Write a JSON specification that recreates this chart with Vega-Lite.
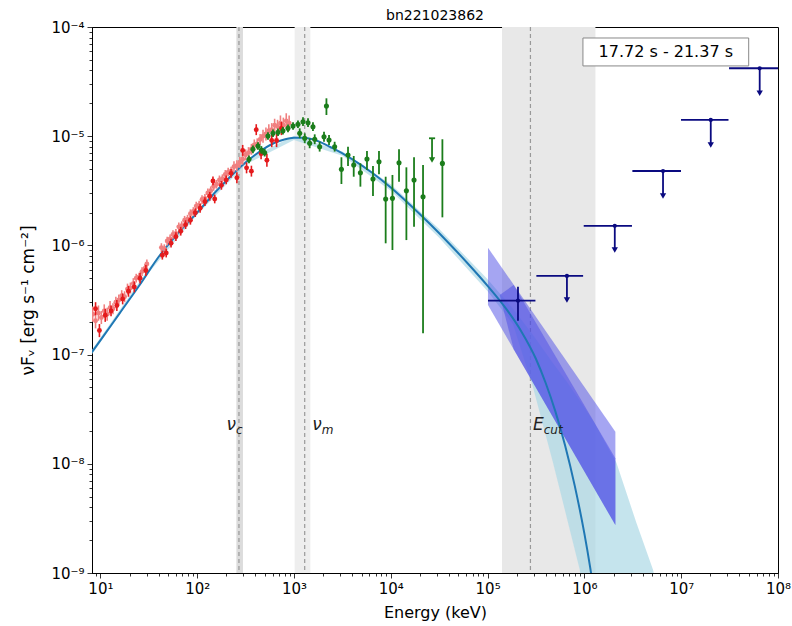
{
"$schema":"https://vega.github.io/schema/vega-lite/v6.json",
"width":686,"height":546,
"autosize":{"type":"none"},
"padding":{"left":92,"top":27,"right":14,"bottom":53},
"background":"white",
"config":{"view":{"stroke":"black","strokeWidth":1},"font":"DejaVu Sans"},
"title":{"text":"bn221023862","fontSize":14,"font":"DejaVu Sans","fontWeight":"normal","offset":-3,"color":"black"},
"resolve":{"axis":{"x":"independent","y":"independent"}},
"datasets":{
"vb":[{"a":254,"b":297,"c":"nc"},{"a":1016,"b":1476,"c":"nm"},{"a":141000,"b":1300000,"c":"ec"}],
"vl":[{"a":270},{"a":1290},{"a":277000}],
"band":[
{"e":8.128,"lo":1.0e-7,"hi":1.096e-7},{"e":31.62,"lo":5.623e-7,"hi":6.166e-7},{"e":100,"lo":1.905e-6,"hi":2.089e-6},{"e":316.2,"lo":5.495e-6,"hi":6.026e-6},{"e":1000,"lo":9.226e-6,"hi":1.012e-5},{"e":3162,"lo":6.607e-6,"hi":7.244e-6},{"e":10000,"lo":3.162e-6,"hi":3.631e-6},{"e":31620,"lo":1.175e-6,"hi":1.413e-6},{"e":100000,"lo":3.802e-7,"hi":4.898e-7},{"e":182800,"lo":1.905e-7,"hi":2.63e-7},{"e":294400,"lo":5.012e-8,"hi":1.514e-7},{"e":474200,"lo":1.023e-8,"hi":8.318e-8},{"e":660700,"lo":3.162e-9,"hi":5.623e-8},{"e":895400,"lo":1.072e-9,"hi":3.802e-8},{"e":1259000,"lo":1e-10,"hi":2.399e-8},{"e":2143000,"lo":1e-10,"hi":1.023e-8},{"e":3443000,"lo":1e-10,"hi":2.884e-9},{"e":5117000,"lo":1e-10,"hi":1.072e-9},{"e":5495000,"lo":1e-10,"hi":7.943e-10}],
"bt":[{"g":"A","e":100900,"lo":2.844e-7,"hi":9.528e-7},{"g":"A","e":2089000,"lo":2.754e-9,"hi":1.968e-8},{"g":"B","e":133400,"lo":3.516e-7,"hi":3.516e-7},{"g":"B","e":186200,"lo":1.117e-7,"hi":4.335e-7},{"g":"B","e":2089000,"lo":2.754e-9,"hi":1.122e-8}],
"model":[{"e":8.128,"f":1.047e-7},{"e":10,"f":1.349e-7},{"e":15.85,"f":2.399e-7},{"e":25.12,"f":4.266e-7},{"e":41.11,"f":8.128e-7},{"e":63.1,"f":1.288e-6},{"e":100,"f":1.995e-6},{"e":158.5,"f":3.162e-6},{"e":251.2,"f":4.786e-6},{"e":398.1,"f":6.761e-6},{"e":631,"f":8.71e-6},{"e":794.3,"f":9.333e-6},{"e":1000,"f":9.66e-6},{"e":1259,"f":9.66e-6},{"e":1585,"f":9.333e-6},{"e":2512,"f":7.762e-6},{"e":3981,"f":6.166e-6},{"e":6310,"f":4.677e-6},{"e":10000,"f":3.388e-6},{"e":15850,"f":2.344e-6},{"e":25120,"f":1.585e-6},{"e":39810,"f":1.047e-6},{"e":63100,"f":6.761e-7},{"e":100000,"f":4.266e-7},{"e":158500,"f":2.57e-7},{"e":223900,"f":1.622e-7},{"e":316200,"f":9.12e-8},{"e":398100,"f":5.495e-8},{"e":501200,"f":3.02e-8},{"e":631000,"f":1.479e-8},{"e":794300,"f":6.31e-9},{"e":1000000,"f":2.291e-9},{"e":1148000,"f":1.122e-9},{"e":1259000,"f":6.607e-10}],
"salmon":[
{"e":8.318,"f":2.344e-7,"lo":1.995e-7,"hi":2.754e-7},{"e":8.913,"f":2.042e-7,"lo":1.738e-7,"hi":2.399e-7},{"e":9.55,"f":2.399e-7,"lo":2.042e-7,"hi":2.818e-7},{"e":10.23,"f":2.188e-7,"lo":1.905e-7,"hi":2.512e-7},{"e":10.96,"f":2.512e-7,"lo":2.188e-7,"hi":2.884e-7},{"e":11.75,"f":2.344e-7,"lo":2.042e-7,"hi":2.692e-7},{"e":12.59,"f":2.692e-7,"lo":2.344e-7,"hi":3.09e-7},{"e":13.49,"f":2.63e-7,"lo":2.344e-7,"hi":2.951e-7},{"e":14.45,"f":3.02e-7,"lo":2.692e-7,"hi":3.388e-7},{"e":15.49,"f":3.162e-7,"lo":2.818e-7,"hi":3.548e-7},{"e":16.6,"f":3.467e-7,"lo":3.09e-7,"hi":3.89e-7},{"e":17.78,"f":3.388e-7,"lo":3.02e-7,"hi":3.802e-7},{"e":19.05,"f":3.981e-7,"lo":3.548e-7,"hi":4.467e-7},{"e":20.42,"f":4.074e-7,"lo":3.631e-7,"hi":4.571e-7},{"e":21.88,"f":4.467e-7,"lo":3.981e-7,"hi":5.012e-7},{"e":23.44,"f":5.012e-7,"lo":4.571e-7,"hi":5.495e-7},{"e":25.12,"f":5.129e-7,"lo":4.677e-7,"hi":5.623e-7},{"e":26.92,"f":5.754e-7,"lo":5.248e-7,"hi":6.31e-7},{"e":28.84,"f":6.166e-7,"lo":5.623e-7,"hi":6.761e-7},{"e":30.2,"f":6.761e-7,"lo":6.166e-7,"hi":7.413e-7},
{"e":42.66,"f":9.55e-7,"lo":8.71e-7,"hi":1.047e-6},{"e":45.71,"f":9.333e-7,"lo":8.511e-7,"hi":1.023e-6},{"e":48.98,"f":1.096e-6,"lo":1e-6,"hi":1.202e-6},{"e":52.48,"f":1.148e-6,"lo":1.047e-6,"hi":1.259e-6},{"e":56.23,"f":1.259e-6,"lo":1.148e-6,"hi":1.38e-6},{"e":60.26,"f":1.288e-6,"lo":1.175e-6,"hi":1.413e-6},{"e":64.57,"f":1.479e-6,"lo":1.349e-6,"hi":1.622e-6},{"e":69.18,"f":1.514e-6,"lo":1.38e-6,"hi":1.66e-6},{"e":74.13,"f":1.698e-6,"lo":1.549e-6,"hi":1.862e-6},{"e":79.43,"f":1.738e-6,"lo":1.585e-6,"hi":1.905e-6},{"e":85.11,"f":1.95e-6,"lo":1.778e-6,"hi":2.138e-6},{"e":91.2,"f":2.042e-6,"lo":1.862e-6,"hi":2.239e-6},{"e":97.72,"f":2.291e-6,"lo":2.089e-6,"hi":2.512e-6},{"e":104.7,"f":2.344e-6,"lo":2.138e-6,"hi":2.57e-6},{"e":112.2,"f":2.63e-6,"lo":2.399e-6,"hi":2.884e-6},{"e":120.2,"f":2.692e-6,"lo":2.455e-6,"hi":2.951e-6},{"e":128.8,"f":3.02e-6,"lo":2.754e-6,"hi":3.311e-6},{"e":138,"f":3.162e-6,"lo":2.884e-6,"hi":3.467e-6},{"e":147.9,"f":3.467e-6,"lo":3.162e-6,"hi":3.802e-6},{"e":158.5,"f":3.631e-6,"lo":3.311e-6,"hi":3.981e-6},{"e":169.8,"f":3.981e-6,"lo":3.631e-6,"hi":4.365e-6},{"e":182,"f":4.074e-6,"lo":3.715e-6,"hi":4.467e-6},{"e":195,"f":4.467e-6,"lo":4.074e-6,"hi":4.898e-6},{"e":208.9,"f":4.677e-6,"lo":4.266e-6,"hi":5.129e-6},{"e":223.9,"f":4.786e-6,"lo":4.365e-6,"hi":5.248e-6},{"e":239.9,"f":5.248e-6,"lo":4.677e-6,"hi":5.888e-6},{"e":257,"f":5.37e-6,"lo":4.786e-6,"hi":6.026e-6},{"e":275.4,"f":5.754e-6,"lo":5.129e-6,"hi":6.457e-6},{"e":295.1,"f":6.166e-6,"lo":5.495e-6,"hi":6.918e-6},{"e":316.2,"f":6.761e-6,"lo":6.026e-6,"hi":7.586e-6},{"e":338.8,"f":7.079e-6,"lo":6.31e-6,"hi":7.943e-6},{"e":363.1,"f":7.586e-6,"lo":6.761e-6,"hi":8.511e-6},{"e":389,"f":8.318e-6,"lo":7.413e-6,"hi":9.333e-6},{"e":416.9,"f":8.511e-6,"lo":7.586e-6,"hi":9.55e-6},{"e":446.7,"f":9.333e-6,"lo":8.318e-6,"hi":1.047e-5},{"e":478.6,"f":1e-5,"lo":8.71e-6,"hi":1.148e-5},{"e":512.9,"f":1.047e-5,"lo":9.12e-6,"hi":1.202e-5},{"e":549.5,"f":1.122e-5,"lo":9.772e-6,"hi":1.288e-5},{"e":588.8,"f":1.148e-5,"lo":1e-5,"hi":1.318e-5},{"e":631,"f":1.259e-5,"lo":1.096e-5,"hi":1.445e-5},{"e":676.1,"f":1.23e-5,"lo":1.072e-5,"hi":1.413e-5},{"e":724.4,"f":1.318e-5,"lo":1.122e-5,"hi":1.549e-5},{"e":776.2,"f":1.259e-5,"lo":1.072e-5,"hi":1.479e-5},{"e":831.8,"f":1.38e-5,"lo":1.175e-5,"hi":1.622e-5},{"e":891.3,"f":1.318e-5,"lo":1.122e-5,"hi":1.549e-5}],
"red":[
{"e":8.913,"f":2.63e-7,"lo":2.291e-7,"hi":3.02e-7},{"e":9.772,"f":1.66e-7,"lo":1.445e-7,"hi":1.905e-7},{"e":11.22,"f":2.291e-7,"lo":1.995e-7,"hi":2.63e-7},{"e":12.88,"f":2.512e-7,"lo":2.239e-7,"hi":2.818e-7},{"e":14.79,"f":2.818e-7,"lo":2.512e-7,"hi":3.162e-7},{"e":16.98,"f":3.236e-7,"lo":2.884e-7,"hi":3.631e-7},{"e":19.5,"f":3.802e-7,"lo":3.388e-7,"hi":4.266e-7},{"e":22.39,"f":4.169e-7,"lo":3.715e-7,"hi":4.677e-7},{"e":25.7,"f":5.012e-7,"lo":4.467e-7,"hi":5.623e-7},{"e":29.51,"f":5.888e-7,"lo":5.248e-7,"hi":6.607e-7},
{"e":43.65,"f":8.128e-7,"lo":7.413e-7,"hi":8.913e-7},{"e":47.86,"f":8.511e-7,"lo":7.762e-7,"hi":9.333e-7},{"e":53.7,"f":1.047e-6,"lo":9.55e-7,"hi":1.148e-6},{"e":60.26,"f":1.202e-6,"lo":1.096e-6,"hi":1.318e-6},{"e":67.61,"f":1.349e-6,"lo":1.23e-6,"hi":1.479e-6},{"e":75.86,"f":1.549e-6,"lo":1.413e-6,"hi":1.698e-6},{"e":85.11,"f":1.698e-6,"lo":1.549e-6,"hi":1.862e-6},{"e":95.5,"f":1.995e-6,"lo":1.82e-6,"hi":2.188e-6},{"e":107.2,"f":2.188e-6,"lo":1.995e-6,"hi":2.399e-6},{"e":120.2,"f":2.512e-6,"lo":2.291e-6,"hi":2.754e-6},{"e":134.9,"f":2.818e-6,"lo":2.57e-6,"hi":3.09e-6},{"e":145.5,"f":3.89e-6,"lo":3.548e-6,"hi":4.266e-6},{"e":151.7,"f":2.661e-6,"lo":2.427e-6,"hi":2.917e-6},{"e":177.8,"f":3.548e-6,"lo":3.236e-6,"hi":3.89e-6},{"e":199.5,"f":3.981e-6,"lo":3.631e-6,"hi":4.365e-6},{"e":223.9,"f":4.571e-6,"lo":4.169e-6,"hi":5.012e-6},{"e":257,"f":4.169e-6,"lo":3.715e-6,"hi":4.677e-6},{"e":295.1,"f":7.413e-6,"lo":6.607e-6,"hi":8.318e-6},{"e":323.6,"f":5.129e-6,"lo":4.571e-6,"hi":5.754e-6},{"e":363.1,"f":4.786e-6,"lo":4.266e-6,"hi":5.37e-6},{"e":407.4,"f":1.148e-5,"lo":1.023e-5,"hi":1.288e-5},{"e":457.1,"f":6.918e-6,"lo":6.166e-6,"hi":7.762e-6},{"e":524.8,"f":6.026e-6,"lo":5.248e-6,"hi":6.918e-6},{"e":588.8,"f":9.12e-6,"lo":7.943e-6,"hi":1.047e-5},{"e":660.7,"f":9.12e-6,"lo":7.943e-6,"hi":1.047e-5},{"e":741.3,"f":1.175e-5,"lo":1.023e-5,"hi":1.349e-5}],
"green":[
{"e":342.8,"f":6.138e-6,"lo":5.662e-6,"hi":6.653e-6},{"e":376.7,"f":7.586e-6,"lo":6.998e-6,"hi":8.222e-6},{"e":424.6,"f":8.128e-6,"lo":7.499e-6,"hi":8.81e-6},{"e":460.3,"f":7.482e-6,"lo":6.902e-6,"hi":8.11e-6},{"e":497.7,"f":7.063e-6,"lo":6.516e-6,"hi":7.656e-6},{"e":538.3,"f":1.005e-5,"lo":9.268e-6,"hi":1.089e-5},{"e":606.7,"f":1.064e-5,"lo":9.817e-6,"hi":1.153e-5},{"e":683.9,"f":1.086e-5,"lo":1.002e-5,"hi":1.178e-5},{"e":769.1,"f":1.122e-5,"lo":1.035e-5,"hi":1.216e-5},{"e":867,"f":1.18e-5,"lo":1.089e-5,"hi":1.279e-5},{"e":977.2,"f":1.239e-5,"lo":1.143e-5,"hi":1.343e-5},{"e":1099,"f":1.285e-5,"lo":1.186e-5,"hi":1.393e-5},{"e":1239,"f":1.358e-5,"lo":1.239e-5,"hi":1.489e-5},{"e":1396,"f":1.33e-5,"lo":1.213e-5,"hi":1.459e-5},{"e":1570,"f":1.222e-5,"lo":1.114e-5,"hi":1.34e-5},
{"e":1146,"f":1.064e-5,"lo":9.594e-6,"hi":1.18e-5},{"e":1291,"f":9.572e-6,"lo":8.63e-6,"hi":1.062e-5},{"e":1452,"f":8.61e-6,"lo":7.762e-6,"hi":9.55e-6},{"e":1637,"f":9.376e-6,"lo":8.453e-6,"hi":1.04e-5},{"e":1841,"f":8.017e-6,"lo":7.228e-6,"hi":8.892e-6},{"e":2042,"f":9.886e-6,"lo":8.913e-6,"hi":1.096e-5},{"e":2301,"f":9.226e-6,"lo":8.318e-6,"hi":1.023e-5},{"e":2630,"f":8.017e-6,"lo":7.228e-6,"hi":8.892e-6},
{"e":2163,"f":1.892e-5,"lo":1.563e-5,"hi":2.223e-5},{"e":3090,"f":4.977e-6,"lo":3.648e-6,"hi":6.412e-6},{"e":3614,"f":6.73e-6,"lo":5.333e-6,"hi":8.017e-6},{"e":4140,"f":5.445e-6,"lo":4.256e-6,"hi":6.592e-6},{"e":4853,"f":4.634e-6,"lo":3.451e-6,"hi":5.649e-6},{"e":5675,"f":6.18e-6,"lo":4.898e-6,"hi":7.311e-6},{"e":6546,"f":4.055e-6,"lo":2.831e-6,"hi":5.333e-6},{"e":7551,"f":5.834e-6,"lo":4.477e-6,"hi":7.311e-6},{"e":8851,"f":2.661e-6,"lo":1.045e-6,"hi":4.256e-6},{"e":10400,"f":2.698e-6,"lo":9.078e-7,"hi":4.416e-6},{"e":12160,"f":5.715e-6,"lo":3.828e-6,"hi":7.586e-6},{"e":14490,"f":3.17e-6,"lo":1.119e-6,"hi":5.188e-6},{"e":17380,"f":3.972e-6,"lo":1.483e-6,"hi":6.412e-6},{"e":21530,"f":2.793e-6,"lo":1.567e-7,"hi":5.445e-6},{"e":34120,"f":5.636e-6,"lo":1.807e-6,"hi":9.376e-6}],
"gul":[{"e":26670,"elo":24800,"ehi":28700,"f":9.572e-6,"lo":6.053e-6}],
"lat":[{"t":"pt","e":206000,"elo":101000,"ehi":312000,"f":3.12e-7,"lo":2.04e-7,"hi":4.19e-7},{"t":"ul","e":660000,"elo":319000,"ehi":970000,"f":5.25e-7,"lo":3.16e-7,"hi":5.25e-7},{"t":"ul","e":2060000,"elo":984000,"ehi":3100000,"f":1.51e-6,"lo":9.08e-7,"hi":1.51e-6},{"t":"ul","e":6490000,"elo":3130000,"ehi":9950000,"f":4.8e-6,"lo":2.83e-6,"hi":4.8e-6},{"t":"ul","e":20200000,"elo":9950000,"ehi":30800000,"f":1.41e-5,"lo":8.3e-6,"hi":1.41e-5},{"t":"ul","e":64700000,"elo":31200000,"ehi":100000000,"f":4.19e-5,"lo":2.47e-5,"hi":4.19e-5}],
"lab":[{"e":251,"f":2.27e-8,"m":"ν","s":"c"},{"e":1936,"f":2.27e-8,"m":"ν","s":"m"},{"e":380000,"f":2.27e-8,"m":"E","s":"cut"}],
"box":[{"x1":966000,"x2":49800000,"y1":4.4e-5,"y2":7.93e-5,"xc":6930000,"yc":5.9e-5,"t":"17.72 s - 21.37 s"}]
},
"layer":[
{"data":{"name":"vb"},"mark":{"type":"rect","clip":true},"encoding":{"x":{"field":"a","type":"quantitative","scale":{"type":"log","domain":[8.19,100000000],"nice":false},"axis":null},"x2":{"field":"b"},"color":{"field":"c","type":"nominal","scale":{"domain":["nc","nm","ec"],"range":["#dcdcdc","#eeeeee","#e8e8e8"]},"legend":null}}},
{"data":{"name":"vl"},"mark":{"type":"rule","strokeDash":[4,3],"color":"#999999","strokeWidth":1.2},"encoding":{"x":{"field":"a","type":"quantitative","scale":{"type":"log","domain":[8.19,100000000],"nice":false},"axis":null}}},
{"data":{"name":"band"},"mark":{"type":"area","clip":true,"color":"#add8e6","opacity":0.7},"encoding":{
"x":{"field":"e","type":"quantitative","scale":{"type":"log","domain":[8.19,100000000],"nice":false},"axis":{"orient":"bottom","values":[9,20,30,40,50,60,70,80,90,200,300,400,500,600,700,800,900,2000,3000,4000,5000,6000,7000,8000,9000,20000,30000,40000,50000,60000,70000,80000,90000,200000,300000,400000,500000,600000,700000,800000,900000,2000000,3000000,4000000,5000000,6000000,7000000,8000000,9000000,20000000,30000000,40000000,50000000,60000000,70000000,80000000,90000000],"labels":false,"domain":false,"grid":false,"tickSize":3,"tickColor":"black","tickWidth":0.8,"title":null}},
"y":{"field":"lo","type":"quantitative","scale":{"type":"log","domain":[1e-9,0.0001],"nice":false},"axis":{"orient":"left","values":[2e-9,3e-9,4e-9,5e-9,6e-9,7e-9,8e-9,9e-9,2e-8,3e-8,4e-8,5e-8,6e-8,7e-8,8e-8,9e-8,2e-7,3e-7,4e-7,5e-7,6e-7,7e-7,8e-7,9e-7,2e-6,3e-6,4e-6,5e-6,6e-6,7e-6,8e-6,9e-6,2e-5,3e-5,4e-5,5e-5,6e-5,7e-5,8e-5,9e-5],"labels":false,"domain":false,"grid":false,"tickSize":3,"tickColor":"black","tickWidth":0.8,"title":null}},
"y2":{"field":"hi"}}},
{"data":{"name":"bt"},"mark":{"type":"area","clip":true,"color":"#4b4be6","opacity":0.5},"encoding":{"x":{"field":"e","type":"quantitative","scale":{"type":"log","domain":[8.19,100000000],"nice":false},"axis":null},"y":{"field":"lo","type":"quantitative","scale":{"type":"log","domain":[1e-9,0.0001],"nice":false},"axis":null},"y2":{"field":"hi"},"detail":{"field":"g","type":"nominal"}}},
{"data":{"name":"model"},"mark":{"type":"line","clip":true,"color":"#1f77b4","strokeWidth":2,"interpolate":"monotone"},"encoding":{
"x":{"field":"e","type":"quantitative","scale":{"type":"log","domain":[8.19,100000000],"nice":false},"axis":{"orient":"bottom","values":[10,100,1000,10000,100000,1000000,10000000,100000000],"labelExpr":"['10⁰','10¹','10²','10³','10⁴','10⁵','10⁶','10⁷','10⁸'][round(log(datum.value)/LN10)]","title":"Energy (keV)","grid":false,"tickSize":5,"tickColor":"black","tickWidth":0.8,"domainColor":"black","domainWidth":1,"labelFont":"DejaVu Sans","labelFontSize":15,"labelColor":"black","labelPadding":3,"labelFlush":false,"labelOverlap":false,"titleFont":"DejaVu Sans","titleFontSize":16,"titleFontWeight":"normal","titleColor":"black","titlePadding":8}},
"y":{"field":"f","type":"quantitative","scale":{"type":"log","domain":[1e-9,0.0001],"nice":false},"axis":{"orient":"left","values":[1e-9,1e-8,1e-7,1e-6,1e-5,0.0001],"labelExpr":"['10⁻⁹','10⁻⁸','10⁻⁷','10⁻⁶','10⁻⁵','10⁻⁴'][round(log(datum.value)/LN10)+9]","title":"νFᵥ [erg s⁻¹ cm⁻²]","grid":false,"tickSize":5,"tickColor":"black","tickWidth":0.8,"domainColor":"black","domainWidth":1,"labelFont":"DejaVu Sans","labelFontSize":15,"labelColor":"black","labelPadding":3,"labelFlush":false,"labelOverlap":false,"titleFont":"DejaVu Sans","titleFontSize":17,"titleFontWeight":"normal","titleColor":"black","titlePadding":13}}}},
{"data":{"name":"salmon"},"mark":{"type":"rule","clip":true,"color":"#f08080","strokeWidth":1.6},"encoding":{"x":{"field":"e","type":"quantitative","scale":{"type":"log","domain":[8.19,100000000],"nice":false},"axis":null},"y":{"field":"lo","type":"quantitative","scale":{"type":"log","domain":[1e-9,0.0001],"nice":false},"axis":null},"y2":{"field":"hi"}}},
{"data":{"name":"salmon"},"mark":{"type":"circle","clip":true,"color":"#f08080","size":24,"opacity":1},"encoding":{"x":{"field":"e","type":"quantitative","scale":{"type":"log","domain":[8.19,100000000],"nice":false},"axis":null},"y":{"field":"f","type":"quantitative","scale":{"type":"log","domain":[1e-9,0.0001],"nice":false},"axis":null}}},
{"data":{"name":"red"},"mark":{"type":"rule","clip":true,"color":"#e41a1c","strokeWidth":1.6},"encoding":{"x":{"field":"e","type":"quantitative","scale":{"type":"log","domain":[8.19,100000000],"nice":false},"axis":null},"y":{"field":"lo","type":"quantitative","scale":{"type":"log","domain":[1e-9,0.0001],"nice":false},"axis":null},"y2":{"field":"hi"}}},
{"data":{"name":"red"},"mark":{"type":"circle","clip":true,"color":"#e41a1c","size":24,"opacity":1},"encoding":{"x":{"field":"e","type":"quantitative","scale":{"type":"log","domain":[8.19,100000000],"nice":false},"axis":null},"y":{"field":"f","type":"quantitative","scale":{"type":"log","domain":[1e-9,0.0001],"nice":false},"axis":null}}},
{"data":{"name":"green"},"mark":{"type":"rule","clip":true,"color":"#1b7d1b","strokeWidth":1.8},"encoding":{"x":{"field":"e","type":"quantitative","scale":{"type":"log","domain":[8.19,100000000],"nice":false},"axis":null},"y":{"field":"lo","type":"quantitative","scale":{"type":"log","domain":[1e-9,0.0001],"nice":false},"axis":null},"y2":{"field":"hi"}}},
{"data":{"name":"green"},"mark":{"type":"circle","clip":true,"color":"#1b7d1b","size":26,"opacity":1},"encoding":{"x":{"field":"e","type":"quantitative","scale":{"type":"log","domain":[8.19,100000000],"nice":false},"axis":null},"y":{"field":"f","type":"quantitative","scale":{"type":"log","domain":[1e-9,0.0001],"nice":false},"axis":null}}},
{"data":{"name":"gul"},"mark":{"type":"rule","clip":true,"color":"#1b7d1b","strokeWidth":1.8},"encoding":{"x":{"field":"e","type":"quantitative","scale":{"type":"log","domain":[8.19,100000000],"nice":false},"axis":null},"y":{"field":"lo","type":"quantitative","scale":{"type":"log","domain":[1e-9,0.0001],"nice":false},"axis":null},"y2":{"field":"f"}}},
{"data":{"name":"gul"},"mark":{"type":"rule","clip":true,"color":"#1b7d1b","strokeWidth":1.8},"encoding":{"x":{"field":"elo","type":"quantitative","scale":{"type":"log","domain":[8.19,100000000],"nice":false},"axis":null},"x2":{"field":"ehi"},"y":{"field":"f","type":"quantitative","scale":{"type":"log","domain":[1e-9,0.0001],"nice":false},"axis":null}}},
{"data":{"name":"gul"},"mark":{"type":"point","shape":"triangle-down","filled":true,"clip":true,"color":"#1b7d1b","size":40,"opacity":1},"encoding":{"x":{"field":"e","type":"quantitative","scale":{"type":"log","domain":[8.19,100000000],"nice":false},"axis":null},"y":{"field":"lo","type":"quantitative","scale":{"type":"log","domain":[1e-9,0.0001],"nice":false},"axis":null}}},
{"data":{"name":"lat"},"mark":{"type":"rule","clip":true,"color":"#0a0a80","strokeWidth":1.8},"encoding":{"x":{"field":"elo","type":"quantitative","scale":{"type":"log","domain":[8.19,100000000],"nice":false},"axis":null},"x2":{"field":"ehi"},"y":{"field":"f","type":"quantitative","scale":{"type":"log","domain":[1e-9,0.0001],"nice":false},"axis":null}}},
{"data":{"name":"lat"},"mark":{"type":"rule","clip":true,"color":"#0a0a80","strokeWidth":1.8},"encoding":{"x":{"field":"e","type":"quantitative","scale":{"type":"log","domain":[8.19,100000000],"nice":false},"axis":null},"y":{"field":"lo","type":"quantitative","scale":{"type":"log","domain":[1e-9,0.0001],"nice":false},"axis":null},"y2":{"field":"hi"}}},
{"data":{"name":"lat"},"transform":[{"filter":"datum.t == 'ul'"}],"mark":{"type":"point","shape":"triangle-down","filled":true,"clip":true,"color":"#0a0a80","size":40,"opacity":1},"encoding":{"x":{"field":"e","type":"quantitative","scale":{"type":"log","domain":[8.19,100000000],"nice":false},"axis":null},"y":{"field":"lo","type":"quantitative","scale":{"type":"log","domain":[1e-9,0.0001],"nice":false},"axis":null}}},
{"data":{"name":"lat"},"mark":{"type":"circle","clip":true,"color":"#0a0a80","size":18,"opacity":1},"encoding":{"x":{"field":"e","type":"quantitative","scale":{"type":"log","domain":[8.19,100000000],"nice":false},"axis":null},"y":{"field":"f","type":"quantitative","scale":{"type":"log","domain":[1e-9,0.0001],"nice":false},"axis":null}}},
{"data":{"name":"lab"},"mark":{"type":"text","align":"right","baseline":"middle","fontSize":17,"fontStyle":"italic","font":"DejaVu Sans","color":"#222222"},"encoding":{"x":{"field":"e","type":"quantitative","scale":{"type":"log","domain":[8.19,100000000],"nice":false},"axis":null},"y":{"field":"f","type":"quantitative","scale":{"type":"log","domain":[1e-9,0.0001],"nice":false},"axis":null},"text":{"field":"m"}}},
{"data":{"name":"lab"},"mark":{"type":"text","align":"left","baseline":"middle","fontSize":12,"fontStyle":"italic","font":"DejaVu Sans","color":"#222222","dy":5},"encoding":{"x":{"field":"e","type":"quantitative","scale":{"type":"log","domain":[8.19,100000000],"nice":false},"axis":null},"y":{"field":"f","type":"quantitative","scale":{"type":"log","domain":[1e-9,0.0001],"nice":false},"axis":null},"text":{"field":"s"}}},
{"data":{"name":"box"},"mark":{"type":"rect","fill":"white","stroke":"#888888","strokeWidth":1},"encoding":{"x":{"field":"x1","type":"quantitative","scale":{"type":"log","domain":[8.19,100000000],"nice":false},"axis":null},"x2":{"field":"x2"},"y":{"field":"y1","type":"quantitative","scale":{"type":"log","domain":[1e-9,0.0001],"nice":false},"axis":null},"y2":{"field":"y2"}}},
{"data":{"name":"box"},"mark":{"type":"text","align":"center","baseline":"middle","fontSize":16,"font":"DejaVu Sans","color":"black"},"encoding":{"x":{"field":"xc","type":"quantitative","scale":{"type":"log","domain":[8.19,100000000],"nice":false},"axis":null},"y":{"field":"yc","type":"quantitative","scale":{"type":"log","domain":[1e-9,0.0001],"nice":false},"axis":null},"text":{"field":"t"}}}
]
}
